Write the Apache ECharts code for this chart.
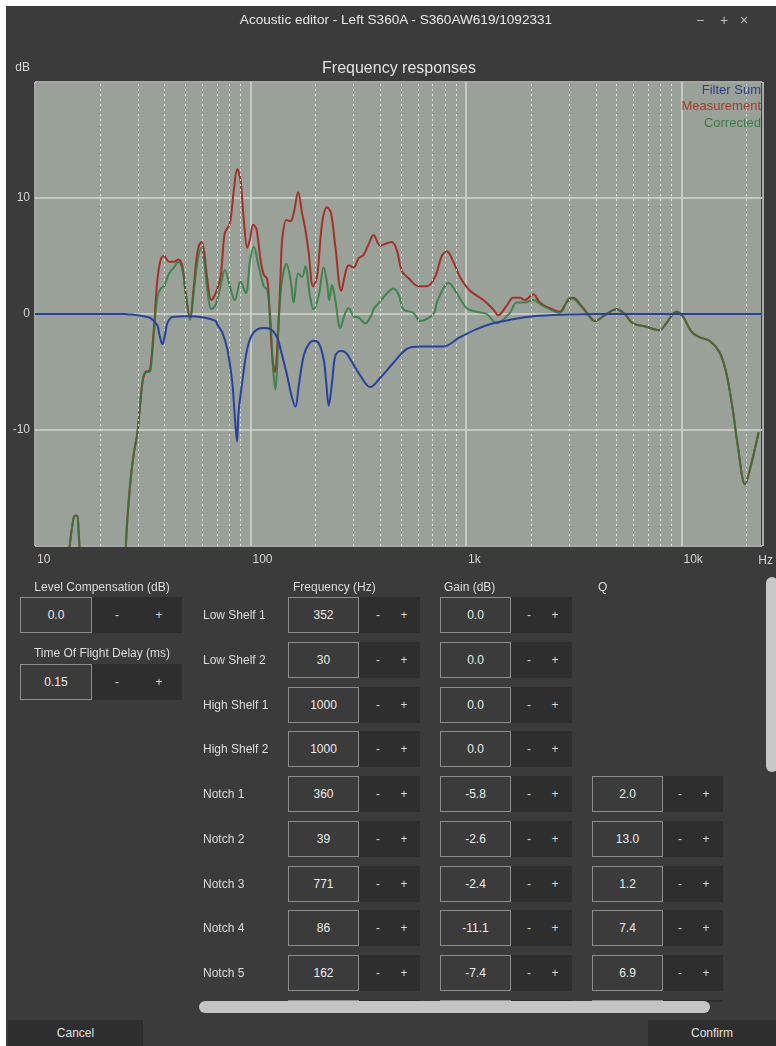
<!DOCTYPE html>
<html><head><meta charset="utf-8">
<script src="https://cdn.jsdelivr.net/npm/echarts@6/dist/echarts.min.js"></script>
<style>
html,body{margin:0;padding:0;background:#ffffff;width:776px;height:1046px;overflow:hidden;font-family:"Liberation Sans",Arial,Helvetica,sans-serif;}
#win{position:absolute;left:6px;top:6px;width:770px;height:1040px;background:#3b3b3b;}
#chart{position:absolute;left:0;top:0;width:776px;height:575px;}
#form{position:absolute;left:0;top:0;width:766px;height:1002px;overflow:hidden;}
.t{position:absolute;color:#dcdcdc;font-size:12px;white-space:nowrap;line-height:14px;height:14px;}
.box{position:absolute;box-sizing:border-box;border:1px solid #8e8e8e;background:#3b3b3b;color:#ececec;font-size:12px;display:flex;align-items:center;justify-content:center;}
.btns{position:absolute;background:#2e2e2e;}
.pm{position:absolute;color:#d8d8d8;font-size:12px;line-height:14px;transform:translateX(-50%);}
.btn{position:absolute;background:#2e2e2e;color:#e0e0e0;font-size:12px;display:flex;align-items:center;justify-content:center;}
</style>
</head><body>
<div id="win"></div>
<div id="chart"></div>
<div id="form"></div>
<div class="t" style="left:0;width:792px;top:13px;text-align:center;font-size:13.6px;color:#e8e8e8;">Acoustic editor - Left S360A - S360AW619/1092331</div>
<div class="t" style="left:696px;top:13px;font-size:14px;color:#bdbdbd;">&minus;</div>
<div class="t" style="left:720px;top:13px;font-size:14px;color:#bdbdbd;">+</div>
<div class="t" style="left:740px;top:13px;font-size:14px;color:#bdbdbd;">&times;</div>
<div style="position:absolute;left:199px;top:1001px;width:511px;height:12px;background:#c4c4c4;border-radius:6px;"></div>
<div style="position:absolute;left:766px;top:577px;width:12px;height:195px;background:#c8c8c8;border-radius:6px;"></div>
<div class="btn" style="left:8px;top:1020px;width:135px;height:26px;">Cancel</div>
<div class="btn" style="left:648px;top:1020px;width:128px;height:26px;">Confirm</div>
<script>
// ---------------- data ----------------
const minorGridFreqs = [20,30,40,50,60,70,80,90,200,300,400,500,600,700,800,900,2000,3000,4000,5000,6000,7000,8000,9000,20000];

const measurementFreq = [10,13.5,14.3,14.7,15.1,15.3,15.7,15.9,16.2,16.5,20,26.1,26.4,26.9,27.8,28.8,29.9,31.5,32.6,33.8,34.4,35.7,36.3,37.0,38.3,39.7,41.9,44.1,46.3,48.3,50.0,52.4,54.6,56.7,59.1,60.8,63.0,65.8,68.9,72.6,76.0,80.2,83.7,86.8,89.9,93.1,96.6,99.3,102.9,106.6,111.3,115.2,119.5,121.5,124,127,130,132.5,135.2,138,140.3,146.8,153.2,158.7,166.3,173.5,179.7,186.2,195.1,203.6,214.8,226.5,236.4,247.5,263.8,275.4,285.2,300.8,317.3,334.6,353.0,372.3,399.9,429.6,452.9,477.7,503.9,540.7,601.4,657.9,718.7,771.8,814,873.7,938,1044,1203,1338,1411,1543,1656,1778,1876,2049,2201,2448,2724,2926,3140,3433,3751,3956,4481,4987,5446,5950,6864,7911,8496,9451,10140,11090,12110,13480,15000,16100,17280,18220,19720,20640,22800];
const measurementDb = [-30,-26,-21,-19,-17.6,-17.4,-17.4,-18.5,-21,-24,-30,-23,-20,-17.4,-14.2,-11.9,-10.2,-5.9,-5.0,-4.9,-4.5,-1.0,1.0,3.0,4.7,5.0,4.5,4.5,4.7,4.1,1.8,-0.3,2.4,5.3,6.2,5.5,3.0,1.2,1.8,3.2,7.0,7.8,10.7,12.5,11.5,8.1,5.7,6.4,7.7,7.3,4.7,3.4,3.0,1.5,-1.5,-4.2,-5.0,-3.5,-0.5,3.5,6.4,8.1,8.0,8.7,10.5,8.7,7.3,5.3,2.4,3.2,7.8,9.2,8.7,5.8,2.0,3.5,4.2,4.0,4.8,5.1,6.0,6.8,5.9,6.1,6.2,5.5,3.7,3.1,2.4,2.4,3.2,5.0,5.4,4.5,3.2,2.0,1.2,0.4,-0.1,0.7,1.4,1.4,1.2,1.7,1.0,0.5,0.2,1.0,1.4,0.7,-0.2,-0.6,0,0.4,0,-0.8,-1.1,-1.4,-0.8,0.2,-0.2,-1.5,-2.0,-2.3,-3.3,-5.0,-8.2,-11.3,-14.7,-13.6,-10.2];

const correctedFreq = [10,13.5,14.3,14.7,15.1,15.3,15.7,15.9,16.2,16.5,20,26.1,26.4,26.9,27.8,28.8,29.9,31.5,32.6,33.8,34.4,35.7,36.3,37.0,38.3,39.7,41.9,44.1,46.3,48.3,50.0,52.4,54.6,56.7,59.1,60.8,63.0,65.8,68.9,72.6,76.0,80.2,84.5,89.9,95,99.7,103.5,108.9,115.2,119.5,123.8,127,130.5,133,135.2,140.3,146.8,153.2,158.7,166.3,173.5,179.7,189,196,207,218.5,226.5,232,239,247.5,261,275.4,285.2,300.8,317.3,340.7,366,372,400,430,460.7,486,512.7,570,612,706,732,785,828,906,1007,1121,1247,1388,1598,1717,1876,2049,2280,2724,3030,3255,3622,3956,4481,4987,5446,5950,6864,7911,8496,9451,10140,11090,12110,13480,15000,16100,17280,18220,19720,20640,22800];
const correctedDb = [-30,-26,-21,-19,-17.6,-17.4,-17.4,-18.5,-21,-24,-30,-23,-20,-17.4,-14.2,-11.9,-10.2,-5.9,-5.0,-5.0,-4.8,-1.5,0.2,1.5,2.2,2.4,3.5,4.0,4.5,3.8,1.8,-0.5,2.0,4.5,5.7,4.7,2.1,0.4,0.8,2.4,3.8,2.4,1.2,2.8,1.8,4.7,5.8,4.2,2.4,2.1,-0.5,-4.5,-6.5,-4.5,-0.5,3.0,4.3,3.0,1.0,3.5,3.2,4.1,1.5,0.4,1.5,4.0,2.7,1.2,2.5,1.2,-1.2,0.1,0.5,-0.2,-0.3,-0.8,0,0.4,1.1,1.8,2.2,1.7,0.4,0.1,-0.6,0,1.0,2.2,2.7,1.8,0.5,0.2,0,-0.8,0.1,1.0,1.0,1.2,0.7,0.1,1.4,1.1,0.1,-0.6,0,0.4,0,-0.8,-1.1,-1.4,-0.8,0.2,-0.2,-1.5,-2.0,-2.3,-3.3,-5.0,-8.2,-11.3,-14.7,-13.6,-10.2];

const filterSumFreq = [10,26,28,31,34.4,37.0,37.7,39.0,40.2,41.1,43.4,50,60.8,68.9,70.1,74,78.0,82.3,84.3,86.6,88.0,91.5,96.6,103.2,114.9,123.8,132.9,137.7,147.9,154.8,161.6,167.4,176.5,186.2,196,207,218.5,224.8,230.5,239,247.5,261,275.4,290.4,323,359.4,400,460.7,531.5,612,785,938,1121,1338,1598,2049,2926,4000,23700];
const filterSumDb = [0,0,-0.05,-0.15,-0.35,-1.0,-1.7,-2.6,-1.7,-0.8,-0.25,-0.2,-0.3,-0.6,-0.9,-1.6,-3.0,-5.9,-8.5,-11.0,-8.5,-5.9,-3.0,-1.6,-1.2,-1.3,-2.0,-3.0,-5.3,-7.0,-8.0,-6.2,-3.6,-2.6,-2.3,-2.5,-3.9,-6.0,-7.9,-5.9,-3.6,-3.2,-3.3,-3.9,-5.3,-6.3,-5.5,-4.2,-3.0,-2.8,-2.8,-2.0,-1.3,-0.8,-0.5,-0.2,-0.05,0,0];

const xTickLabels = {10:'10', 100:'100', 1000:'1k', 10000:'10k'};

// form data
const rowNames = ['Low Shelf 1','Low Shelf 2','High Shelf 1','High Shelf 2','Notch 1','Notch 2','Notch 3','Notch 4','Notch 5',''];
const rowFreq = ['352','30','1000','1000','360','39','771','86','162',''];
const rowGain = ['0.0','0.0','0.0','0.0','-5.8','-2.6','-2.4','-11.1','-7.4',''];
const rowQ = [null,null,null,null,'2.0','13.0','1.2','7.4','6.9',''];
const levelCompensation = '0.0';
const timeOfFlight = '0.15';

// ---------------- form ----------------
const form = document.getElementById('form');
function txt(x, yc, s){ const d=document.createElement('div'); d.className='t'; d.style.left=x+'px'; d.style.top=(yc-7)+'px'; d.textContent=s; form.appendChild(d); return d; }
function ctxt(xc, yc, s){ const d=txt(xc, yc, s); d.style.transform='translateX(-50%)'; return d; }
function box(x,y,w,h,s){ const d=document.createElement('div'); d.className='box'; Object.assign(d.style,{left:x+'px',top:y+'px',width:w+'px',height:h+'px'}); d.textContent=s; form.appendChild(d); }
function btns(x,y,w,h,mx,px){ const d=document.createElement('div'); d.className='btns'; Object.assign(d.style,{left:x+'px',top:y+'px',width:w+'px',height:h+'px'}); form.appendChild(d);
  const m=document.createElement('div'); m.className='pm'; m.style.left=mx+'px'; m.style.top=(y+h/2-7)+'px'; m.textContent='-'; form.appendChild(m);
  const p=document.createElement('div'); p.className='pm'; p.style.left=px+'px'; p.style.top=(y+h/2-7)+'px'; p.textContent='+'; form.appendChild(p); }

ctxt(102, 587, 'Level Compensation (dB)');
box(20, 597, 72, 36, levelCompensation); btns(92, 597, 90, 36, 117, 159);
ctxt(102, 653, 'Time Of Flight Delay (ms)');
box(20, 664, 72, 36, timeOfFlight); btns(92, 664, 90, 36, 117, 159);
txt(293, 587, 'Frequency (Hz)');
txt(444, 587, 'Gain (dB)');
txt(598, 587, 'Q');
for (let i=0;i<rowNames.length;i++){
  const y = 597 + i*44.75;
  if (rowNames[i]) txt(203, y+18, rowNames[i]);
  box(288, y, 71, 36, rowFreq[i]); btns(359, y, 61, 36, 378, 404);
  box(440, y, 71, 36, rowGain[i]); btns(511, y, 61, 36, 529, 555);
  if (rowQ[i] !== null){ box(592, y, 71, 36, rowQ[i]); btns(663, y, 60, 36, 680, 706); }
}

// ---------------- chart ----------------
const pairs = (xs, ys) => xs.map((x,i)=>[x, ys[i]]);
const chart = echarts.init(document.getElementById('chart'));
const FONT = '"Liberation Sans", Arial, sans-serif';
chart.setOption({
  animation:false,
  backgroundColor:'transparent',
  title:{text:'Frequency responses', left:394, top:56, textAlign:'center',
    textStyle:{color:'#e2e2e2', fontSize:16, fontWeight:'normal', fontFamily:FONT}},
  legend:{orient:'vertical', right:5, top:78, icon:'none', itemWidth:0, itemHeight:14, itemGap:3, align:'right', selectedMode:false,
    textStyle:{fontSize:13, fontFamily:FONT},
    data:[{name:'Filter Sum', textStyle:{color:'#2c3e92'}},{name:'Measurement', textStyle:{color:'#a23c2e'}},{name:'Corrected', textStyle:{color:'#3b7c49'}}]},
  grid:{left:35, top:82, width:729, height:464, show:true, backgroundColor:'#99a199', borderColor:'#141414', borderWidth:2},
  xAxis:{type:'log', logBase:10, min:10, max:23714,
    axisLine:{show:false, onZero:false}, axisTick:{show:false},
    splitLine:{show:true, lineStyle:{color:'#d3d7d1', width:1.5}},
    axisLabel:{align:'left', margin:8, padding:[0,0,0,2], color:'#d4d4d4', fontSize:12, fontFamily:FONT, showMaxLabel:false,
      formatter:v=> xTickLabels[Math.round(v)] || ''},
    name:'Hz', nameLocation:'end', nameGap:-4,
    nameTextStyle:{align:'left', verticalAlign:'top', padding:[9,0,0,0], color:'#d4d4d4', fontSize:12, fontFamily:FONT}},
  yAxis:{type:'value', min:-20, max:20, interval:10,
    axisLine:{show:false, onZero:false}, axisTick:{show:false},
    splitLine:{show:true, lineStyle:{color:'#d3d7d1', width:1.5}},
    axisLabel:{margin:5, padding:[0,0,8,0], color:'#d4d4d4', fontSize:12, fontFamily:FONT, showMinLabel:false, showMaxLabel:false},
    name:'dB', nameLocation:'end', nameGap:8,
    nameTextStyle:{align:'right', verticalAlign:'bottom', padding:[0,5,0,0], color:'#d4d4d4', fontSize:12, fontFamily:FONT}},
  series:[
    {type:'line', name:'grid-minor', data:[], silent:true,
      markLine:{silent:true, symbol:['none','none'], label:{show:false},
        lineStyle:{color:'#e2e5e0', width:1, type:[2,3]},
        data: minorGridFreqs.map(f=>({xAxis:f}))}},
    {type:'line', name:'Measurement', data:pairs(measurementFreq, measurementDb), showSymbol:false, smooth:0.35,
      lineStyle:{color:'#a5302a', width:2}, itemStyle:{color:'#a5302a'}, z:3},
    {type:'line', name:'Corrected', data:pairs(correctedFreq, correctedDb), showSymbol:false, smooth:0.35,
      lineStyle:{color:'#2b7a3c', width:2, opacity:0.8}, itemStyle:{color:'#2b7a3c'}, z:4},
    {type:'line', name:'Filter Sum', data:pairs(filterSumFreq, filterSumDb), showSymbol:false, smooth:0.35,
      lineStyle:{color:'#2840a0', width:2}, itemStyle:{color:'#2840a0'}, z:5}
  ]
});
</script>
</body></html>
